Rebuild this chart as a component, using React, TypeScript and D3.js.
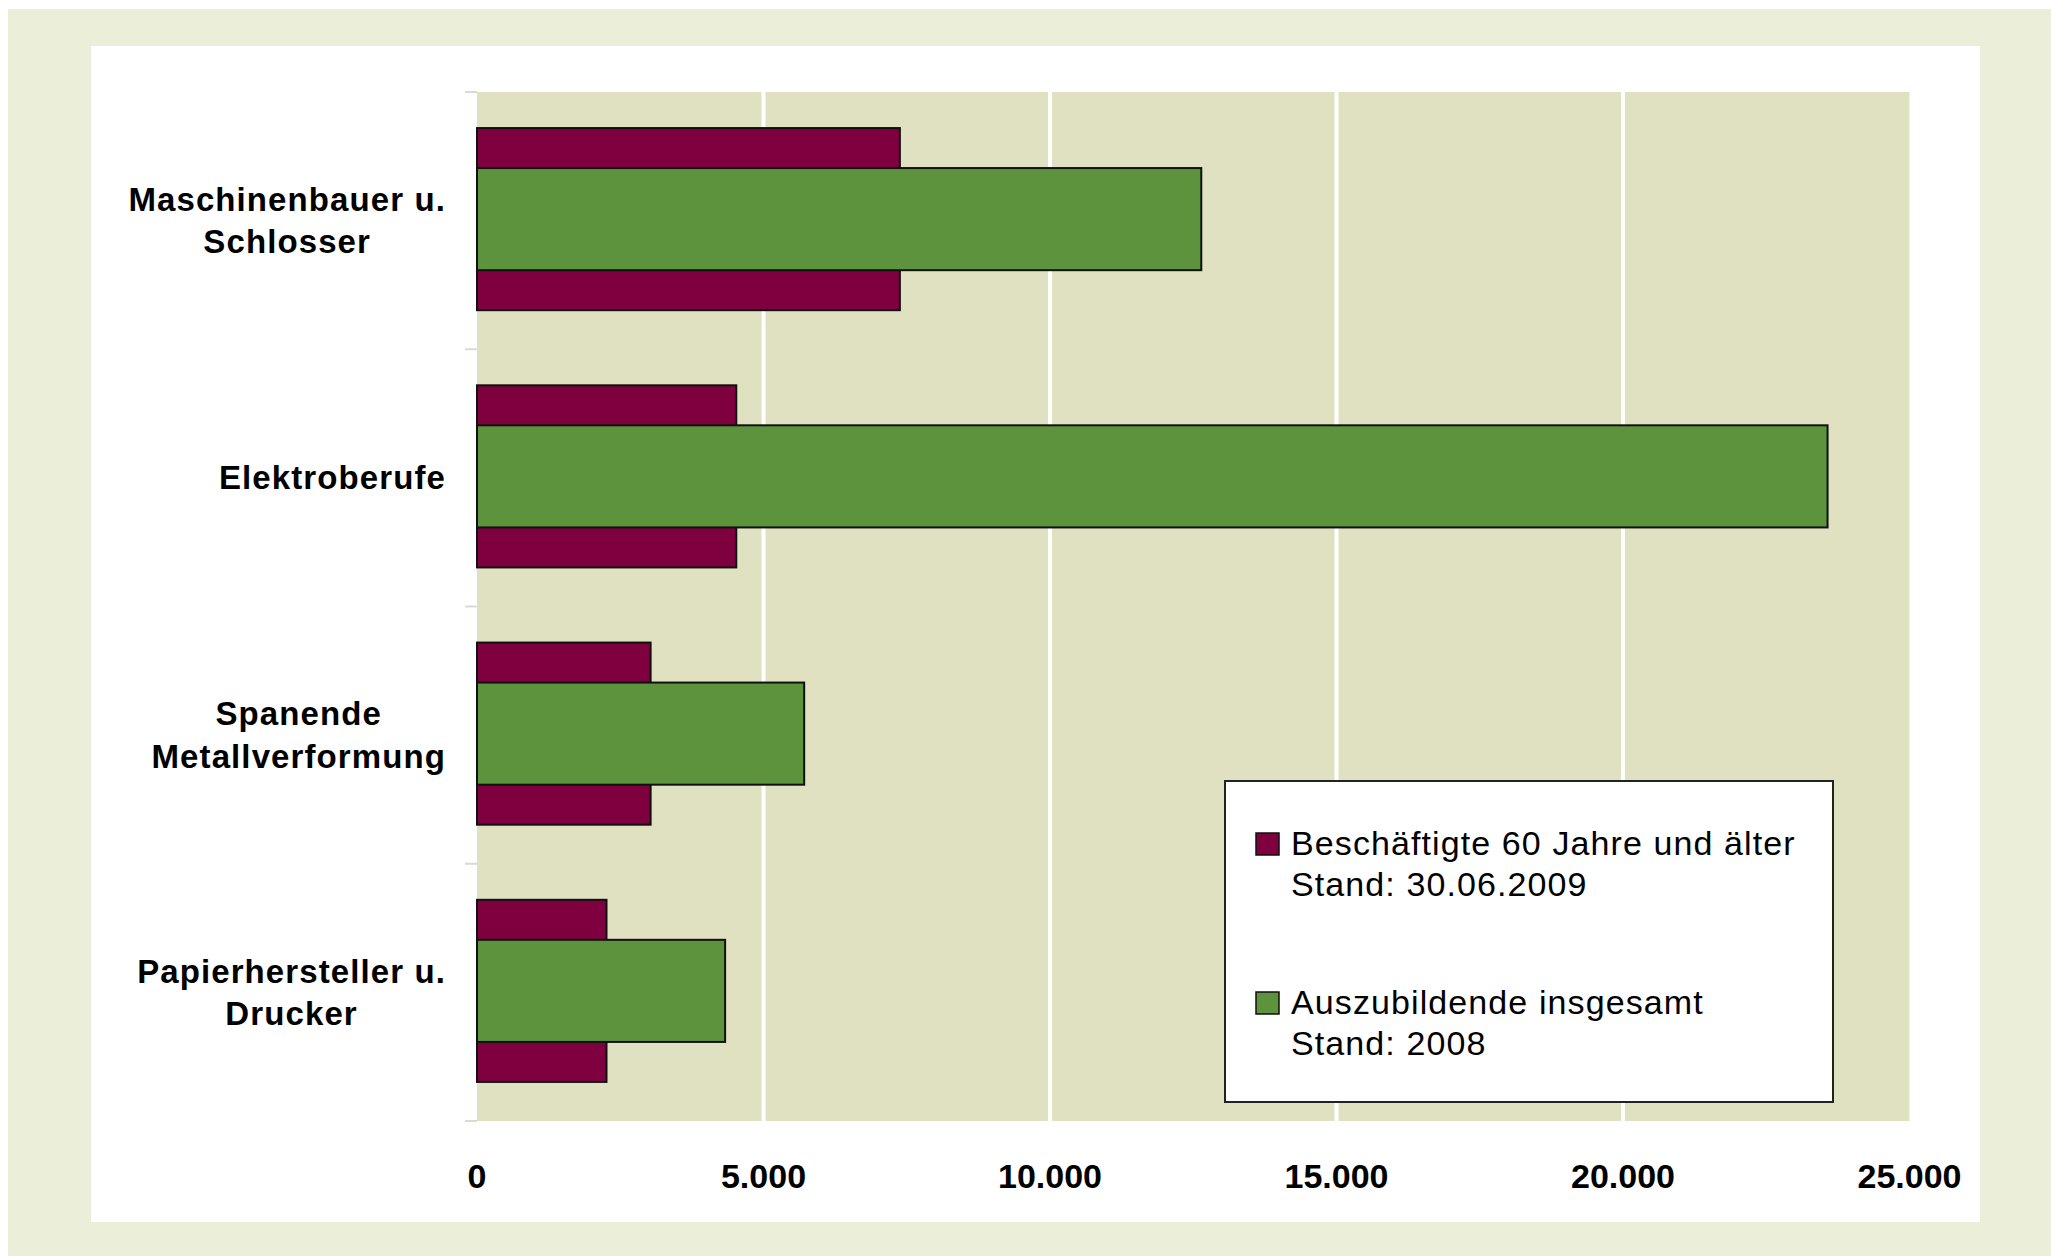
import React, { useEffect, useRef } from 'react';
import * as d3 from 'd3';

const categories = [
  'Maschinenbauer u.\nSchlosser',
  'Elektroberufe',
  'Spanende\nMetallverformung',
  'Papierhersteller u.\nDrucker'
];
const olderWorkers = [7380, 4525, 3030, 2260];
const trainees = [12640, 23570, 5710, 4330];
const xTicks = [0, 5000, 10000, 15000, 20000, 25000];
const legendItems = [
  { label: ['Beschäftigte 60 Jahre und älter', 'Stand: 30.06.2009'], color: '#7E003E' },
  { label: ['Auszubildende insgesamt', 'Stand: 2008'], color: '#5C933C' }
];

const W = 2051;
const H = 1256;
const plot = { left: 477, top: 92, right: 1909.5, bottom: 1121 };

const de = d3.formatLocale({ decimal: ',', thousands: '.', grouping: [3], currency: ['', ' €'] });
const fmt = de.format(',');

const App: React.FC = () => {
  const svgRef = useRef<SVGSVGElement>(null);

  useEffect(() => {
    if (!svgRef.current) return;
    const svg = d3.select(svgRef.current);
    svg.selectAll('*').remove();

    // backgrounds
    svg.append('rect').attr('width', W).attr('height', H).attr('fill', '#fff');
    svg.append('rect').attr('x', 8).attr('y', 9).attr('width', W - 8).attr('height', H - 9).attr('fill', '#EBEED9');
    svg.append('rect').attr('x', 91).attr('y', 46).attr('width', 1889).attr('height', 1176).attr('fill', '#fff');

    const x = d3.scaleLinear().domain([0, 25000]).range([plot.left, plot.right]);
    const y = d3.scaleBand<string>().domain(categories).range([plot.top, plot.bottom]).padding(0);
    const bw = y.bandwidth();
    const hOld = bw * 0.708;
    const hTrain = bw * 0.397;

    svg.append('rect')
      .attr('x', plot.left).attr('y', plot.top)
      .attr('width', plot.right - plot.left).attr('height', plot.bottom - plot.top)
      .attr('fill', '#E0E1C1');

    // gridlines
    svg.append('g').selectAll('line')
      .data(xTicks.filter(t => t > 0 && t < 25000))
      .enter().append('line')
      .attr('x1', d => x(d)).attr('x2', d => x(d))
      .attr('y1', plot.top).attr('y2', plot.bottom)
      .attr('stroke', '#fff').attr('stroke-width', 4);

    // category tick marks
    const bounds = [...categories.map(c => y(c) as number), plot.bottom];
    svg.append('g').selectAll('line')
      .data(bounds)
      .enter().append('line')
      .attr('x1', plot.left - 12).attr('x2', plot.left)
      .attr('y1', d => d).attr('y2', d => d)
      .attr('stroke', '#DADAD2').attr('stroke-width', 2);

    // bars: older workers behind, trainees in front
    const rows = categories.map((c, i) => ({ c, older: olderWorkers[i], train: trainees[i] }));
    const center = (c: string) => (y(c) as number) + bw / 2 - 1.5;

    svg.append('g').selectAll('rect')
      .data(rows)
      .enter().append('rect')
      .attr('x', x(0)).attr('y', d => center(d.c) - hOld / 2)
      .attr('width', d => x(d.older) - x(0)).attr('height', hOld)
      .attr('fill', legendItems[0].color).attr('stroke', '#111').attr('stroke-width', 2);

    svg.append('g').selectAll('rect')
      .data(rows)
      .enter().append('rect')
      .attr('x', x(0)).attr('y', d => center(d.c) - hTrain / 2)
      .attr('width', d => x(d.train) - x(0)).attr('height', hTrain)
      .attr('fill', legendItems[1].color).attr('stroke', '#111').attr('stroke-width', 2);

    // x tick labels
    svg.append('g').selectAll('text')
      .data(xTicks)
      .enter().append('text')
      .attr('x', d => x(d)).attr('y', 1188)
      .attr('text-anchor', 'middle')
      .style('font-family', '"Liberation Sans", Arial, sans-serif')
      .style('font-weight', 'bold').style('font-size', '34px')
      .text(d => fmt(d));

    // category labels: multi-line blocks, centered lines, block right-aligned
    const lineH = 42.5;
    categories.forEach(c => {
      const lines = c.split('\n');
      const g = svg.append('g');
      const texts = lines.map((ln, i) =>
        g.append('text')
          .attr('y', center(c) + 1.5 + (i - (lines.length - 1) / 2) * lineH + 11.5)
          .attr('text-anchor', 'middle')
          .style('font-family', '"Liberation Sans", Arial, sans-serif')
          .style('font-weight', 'bold').style('font-size', '33px')
          .style('letter-spacing', '1.1px')
          .text(ln)
      );
      const maxW = d3.max(texts, t => (t.node() as SVGTextElement).getComputedTextLength()) || 0;
      texts.forEach(t => t.attr('x', 446 - maxW / 2));
    });

    // legend
    const lg = svg.append('g');
    lg.append('rect').attr('x', 1225).attr('y', 781).attr('width', 608).attr('height', 321)
      .attr('fill', '#fff').attr('stroke', '#222').attr('stroke-width', 2);
    const legendTop = [855, 1014];
    legendItems.forEach((it, i) => {
      lg.append('rect').attr('x', 1256).attr('y', legendTop[i] - 22).attr('width', 23).attr('height', 22)
        .attr('fill', it.color).attr('stroke', '#111').attr('stroke-width', 1.5);
      it.label.forEach((ln, j) => {
        lg.append('text')
          .attr('x', 1291).attr('y', legendTop[i] + j * 41)
          .style('font-family', '"Liberation Sans", Arial, sans-serif')
          .style('font-size', '34px').style('letter-spacing', '1.1px')
          .text(ln);
      });
    });
  }, []);

  return (
    <svg ref={svgRef} width={W} height={H}
      style={{ position: 'absolute', left: 0, top: 0, display: 'block' }} />
  );
};

export default App;
